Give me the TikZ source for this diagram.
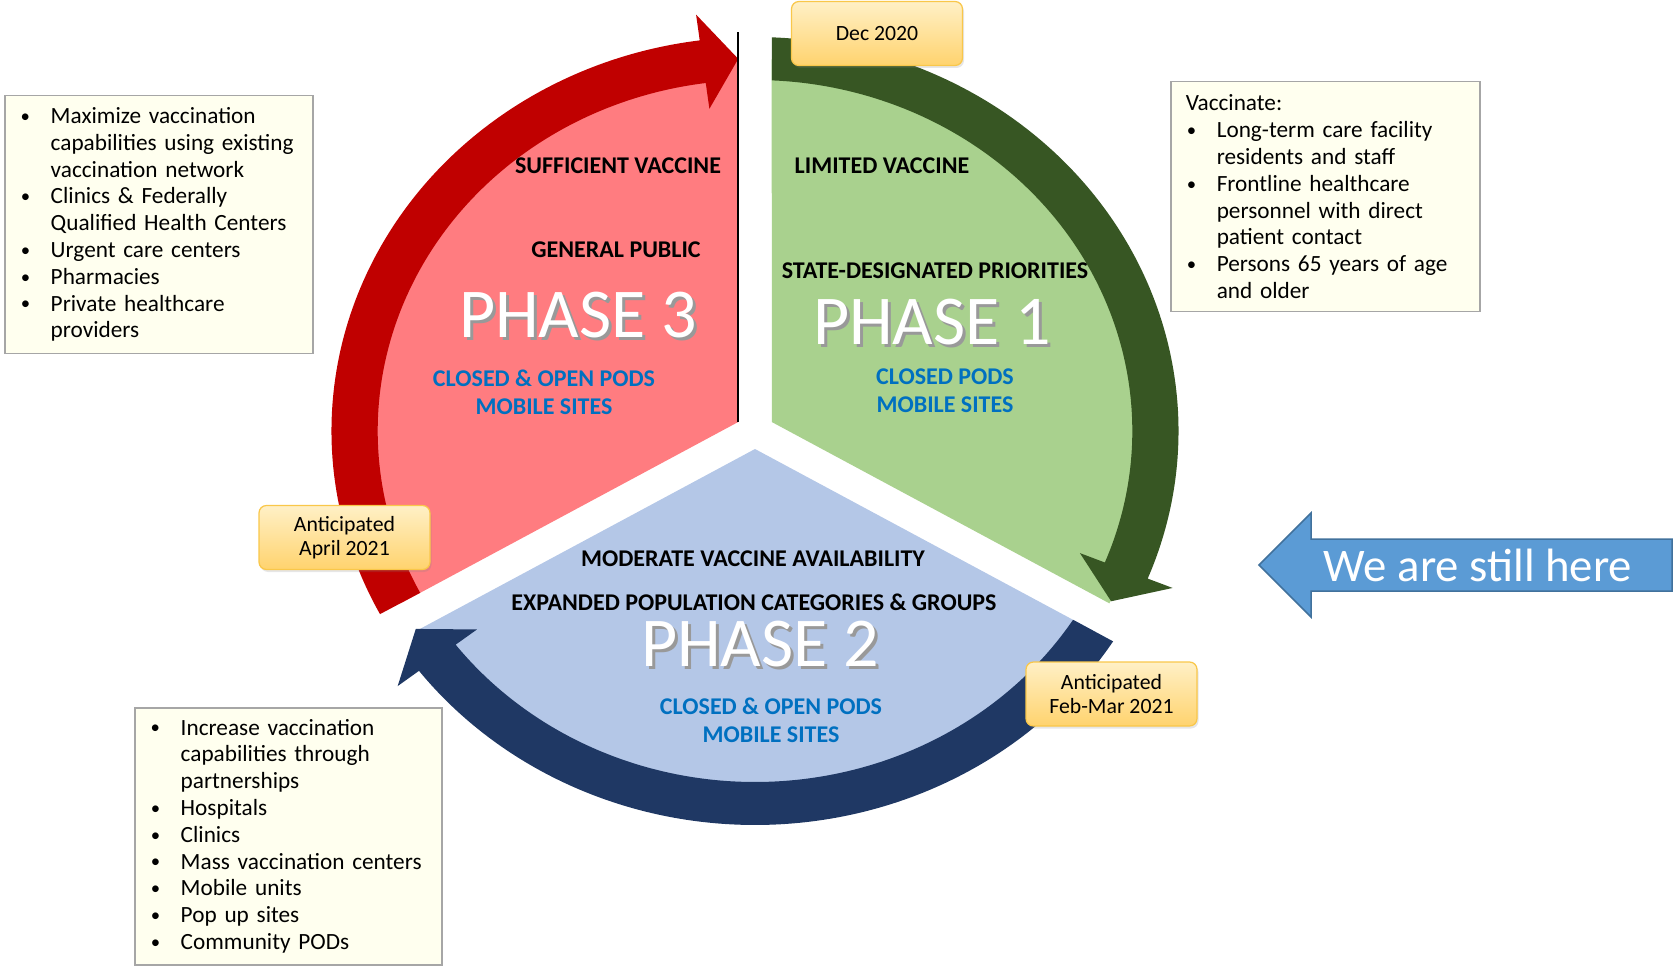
\documentclass[tikz,border=0pt]{standalone}
\usepackage{fontspec}
\setmainfont{Carlito}
\usepackage{tikz}
\usetikzlibrary{shadows}
\definecolor{phthree}{HTML}{FF7C80}
\definecolor{phthreearr}{HTML}{C00000}
\definecolor{phone}{HTML}{A9D18E}
\definecolor{phonearr}{HTML}{375623}
\definecolor{phtwo}{HTML}{B4C7E7}
\definecolor{phtwoarr}{HTML}{1F3864}
\definecolor{podblue}{HTML}{0070C0}
\definecolor{noteback}{HTML}{FFFFEF}
\definecolor{noteline}{HTML}{A6A6A6}
\definecolor{datetop}{HTML}{FFF0C6}
\definecolor{datebot}{HTML}{FFD36E}
\definecolor{dateline}{HTML}{F9C74A}
\definecolor{herefill}{HTML}{5B9BD5}
\definecolor{hereline}{HTML}{41719C}
\newdimen\pxu \pxu=0.4pt
\newcommand{\bul}[1]{\par\hangindent=31\pxu\hangafter=1\noindent
  \makebox[31\pxu][l]{\hspace{0.4pt}\raisebox{0.5pt}{\fontsize{7.5}{7.5}\selectfont\textbullet}}#1}
\newcommand{\phasetxt}[1]{\makebox[0pt][l]{\hspace{1.2pt}\raisebox{-1.2pt}{\textcolor{black!40}{#1}}}#1}

\begin{document}
\begin{tikzpicture}[x=0.4pt, y=-0.4pt,
  note/.style={draw=noteline, line width=0.6pt, fill=noteback, anchor=north west,
    inner xsep=15\pxu, inner ysep=0pt, font=\fontsize{9.3}{10.72}\selectfont},
  datebox/.style={draw=dateline, line width=0.5pt, rounded corners=3pt,
    top color=datetop, bottom color=datebot, minimum width=171\pxu, minimum height=64\pxu,
    align=center, font=\fontsize{8.7}{9.8}\selectfont,
    drop shadow={opacity=0.2, shadow xshift=0.6pt, shadow yshift=-1pt}},
  phcap/.style={font=\fontsize{9.6}{11.1}\selectfont\bfseries, inner sep=0pt},
  pods/.style={phcap, text=podblue, align=center},
  phase/.style={font=\fontsize{28}{30}\selectfont, text=white, inner sep=0pt}]
\useasboundingbox (0,0) rectangle (1676,966);

\begin{scope}[shift={(755,431)}, yscale=-1, xscale=1.075]
% phase 3
\fill[phthree] (-15.59,9) -- (92.4:372) arc[start angle=92.4, end angle=207.6, radius=372] -- cycle;
\fill[phthreearr] (207.7:394) arc[start angle=207.7, end angle=97.5, radius=394]
  -- (97.5:420) -- (92.4:372.5) -- (97.5:325) -- (97.5:351)
  arc[start angle=97.5, end angle=207.45, radius=351] -- cycle;
% phase 1
\fill[phone] (15.59,9) -- (87.6:372) arc[start angle=87.6, end angle=-27.6, radius=372] -- cycle;
\fill[phonearr] (87.73:394) arc[start angle=87.73, end angle=-22, radius=394]
  -- (-22:419) -- (-27.2:372.5) -- (-22:326) -- (-22:351)
  arc[start angle=-22, end angle=87.45, radius=351] -- cycle;
% phase 2
\fill[phtwo] (0,-18) -- (212.4:372) arc[start angle=212.4, end angle=327.6, radius=372] -- cycle;
\fill[phtwoarr] (-32.27:394) arc[start angle=-32.27, end angle=-142.5, radius=394]
  -- (-142.5:419) -- (-147.9:372.5) -- (-142.5:326) -- (-142.5:351)
  arc[start angle=-142.5, end angle=-32.54, radius=351] -- cycle;
\draw[line width=0.8pt] (-15.59,9) -- (-15.59,399);
\end{scope}

\node[phcap] (suff) at (618,166) {SUFFICIENT VACCINE};
\node[phcap] (genpub) at (616,250) {GENERAL PUBLIC};
\node[phase] (ph3) at (578,317) {\phasetxt{PHASE 3}};
\node[pods] (pods3) at (544,392) {CLOSED \& OPEN PODS\\MOBILE SITES};

\node[phcap] (limited) at (882,166) {LIMITED VACCINE};
\node[phcap] (statepri) at (935,271) {STATE-DESIGNATED PRIORITIES};
\node[phase] (ph1) at (932,324) {\phasetxt{PHASE 1}};
\node[pods] (pods1) at (945,391) {CLOSED PODS\\MOBILE SITES};

\node[phcap] (moderate) at (753,559) {MODERATE VACCINE AVAILABILITY};
\node[phcap] (expanded) at (754,602) {EXPANDED POPULATION CATEGORIES \& GROUPS};
\node[phase] (ph2) at (760,646) {\phasetxt{PHASE 2}};
\node[pods] (pods2) at (771,720) {CLOSED \& OPEN PODS\\MOBILE SITES};

\node[datebox] (dec) at (877,33.5) {Dec 2020};
\node[datebox] (april) at (344.5,537.5) {Anticipated\\April 2021};
\node[datebox] (febmar) at (1111.5,694) {Anticipated\\Feb-Mar 2021};

\node[note, minimum width=308\pxu, minimum height=258\pxu, text width=278\pxu] (ph3list) at (4,95) {%
\bul{Maximize vaccination\newline capabilities using existing\newline vaccination network}
\bul{Clinics \& Federally\newline Qualified Health Centers}
\bul{Urgent care centers}
\bul{Pharmacies}
\bul{Private healthcare\newline providers}\par\kern11\pxu};
\node[note, minimum width=309\pxu, minimum height=230\pxu, text width=279\pxu] (ph1list) at (1170,81) {%
\noindent Vaccinate:
\bul{Long-term care facility\newline residents and staff}
\bul{Frontline healthcare\newline personnel with direct\newline patient contact}
\bul{Persons 65 years of age\newline and older}\par};
\node[note, minimum width=307\pxu, minimum height=257\pxu, text width=277\pxu] (ph2list) at (134,707) {%
\bul{Increase vaccination\newline capabilities through\newline partnerships}
\bul{Hospitals}
\bul{Clinics}
\bul{Mass vaccination centers}
\bul{Mobile units}
\bul{Pop up sites}
\bul{Community PODs}\par\kern11\pxu};

\filldraw[fill=herefill, draw=hereline, line width=0.6pt] (1259,565) -- (1311,513) -- (1311,539)
  -- (1672,539) -- (1672,591) -- (1311,591) -- (1311,617) -- cycle;
\node[text=white, font=\fontsize{18.7}{20}\selectfont, inner sep=0pt] (here) at (1478,565) {We are still here};
\end{tikzpicture}
\end{document}
